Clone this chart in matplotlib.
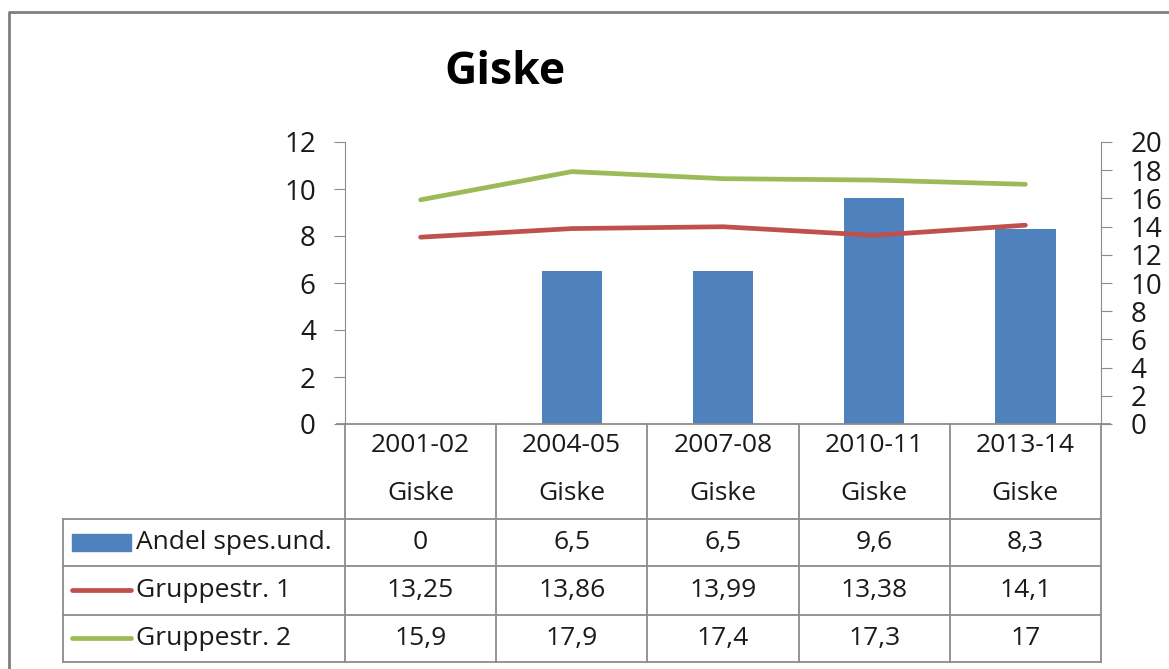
import numpy as np
import matplotlib.pyplot as plt
from matplotlib.patches import Rectangle

plt.rcParams['font.family'] = ['Open Sans', 'DejaVu Sans']

periods = ["2001-02", "2004-05", "2007-08", "2010-11", "2013-14"]
place = ["Giske"] * 5
andel = [0, 6.5, 6.5, 9.6, 8.3]
gruppe1 = [13.25, 13.86, 13.99, 13.38, 14.1]
gruppe2 = [15.9, 17.9, 17.4, 17.3, 17]
series_names = ["Andel spes.und.", "Gruppestr. 1", "Gruppestr. 2"]
table_text = [["0", "6,5", "6,5", "9,6", "8,3"],
              ["13,25", "13,86", "13,99", "13,38", "14,1"],
              ["15,9", "17,9", "17,4", "17,3", "17"]]

BLUE = "#4F81BD"
RED = "#C0504D"
GREEN = "#9BBB59"
GRAY = "#8C8C8C"
TXT = "#1a1a1a"
W, H = 1169, 669

fig = plt.figure(figsize=(W / 100, H / 100), dpi=100)

# pixel geometry
x_left, x_right = 345, 1101
y_top, y_zero = 142, 424


def fx(px):
    return px / W


def fy(py):
    return 1 - py / H


ax = fig.add_axes([fx(x_left), fy(y_zero), fx(x_right - x_left), (y_zero - y_top) / H])
ax2 = ax.twinx()

x = np.arange(len(periods))
ax.bar(x, andel, width=0.4, color=BLUE, zorder=2)
ax.set_xlim(-0.5, len(periods) - 0.5)
ax.set_ylim(0, 12)
ax.set_yticks(range(0, 13, 2))
ax2.set_ylim(0, 20)
ax2.set_yticks(range(0, 21, 2))
ax2.plot(x, gruppe1, color=RED, lw=3.4, solid_capstyle='round')
ax2.plot(x, gruppe2, color=GREEN, lw=3.4, solid_capstyle='round')

for a in (ax, ax2):
    for s in a.spines.values():
        s.set_visible(False)
    a.set_xticks([])
ax.spines['left'].set_visible(True)
ax.spines['left'].set_color(GRAY)
ax2.spines['right'].set_visible(True)
ax2.spines['right'].set_color(GRAY)
ax.tick_params(axis='y', length=8, color=GRAY, labelsize=20, labelcolor=TXT, pad=13)
ax2.tick_params(axis='y', length=8, color=GRAY, labelsize=20, labelcolor=TXT, pad=13)

# overlay in pixel coordinates for the data table
ov = fig.add_axes([0, 0, 1, 1])
ov.set_xlim(0, W)
ov.set_ylim(H, 0)
ov.axis('off')
ov.patch.set_alpha(0)

lw = 1.3
# outer chart border
ov.plot([9, 9, W], [H, 12, 12], color="#7F7F7F", lw=2)

# baseline with tick overhang
ov.plot([337, 1110], [y_zero, y_zero], color=GRAY, lw=lw)

col_w = (x_right - x_left) / len(periods)
cols = [x_left + i * col_w for i in range(len(periods) + 1)]
row_y = [519, 566, 615, 662]
table_left = 63

for cx in cols:
    ov.plot([cx, cx], [y_zero, row_y[-1]], color=GRAY, lw=lw)
ov.plot([table_left, table_left], [row_y[0], row_y[-1]], color=GRAY, lw=lw)
for ry in row_y:
    ov.plot([table_left, x_right], [ry, ry], color=GRAY, lw=lw)

fs = 19
for i in range(len(periods)):
    cx = (cols[i] + cols[i + 1]) / 2
    ov.text(cx, 446, periods[i], ha='center', va='center', fontsize=fs, color=TXT)
    ov.text(cx, 493, place[i], ha='center', va='center', fontsize=fs, color=TXT)
    for r in range(3):
        cy = (row_y[r] + row_y[r + 1]) / 2
        ov.text(cx, cy, table_text[r][i], ha='center', va='center', fontsize=fs, color=TXT)

# legend keys inside the table
ov.add_patch(Rectangle((72, 534), 59, 17, color=BLUE))
ov.plot([72, 131], [590, 590], color=RED, lw=3.4, solid_capstyle='round')
ov.plot([72, 131], [638, 638], color=GREEN, lw=3.4, solid_capstyle='round')
for r, name in enumerate(series_names):
    cy = (row_y[r] + row_y[r + 1]) / 2
    ov.text(136, cy, name, ha='left', va='center', fontsize=fs, color=TXT)

fig.text(fx(505), fy(73), "Giske", ha='center', va='center', fontsize=32,
         fontweight='bold', color="black")

fig.savefig("out.png", dpi=100)
